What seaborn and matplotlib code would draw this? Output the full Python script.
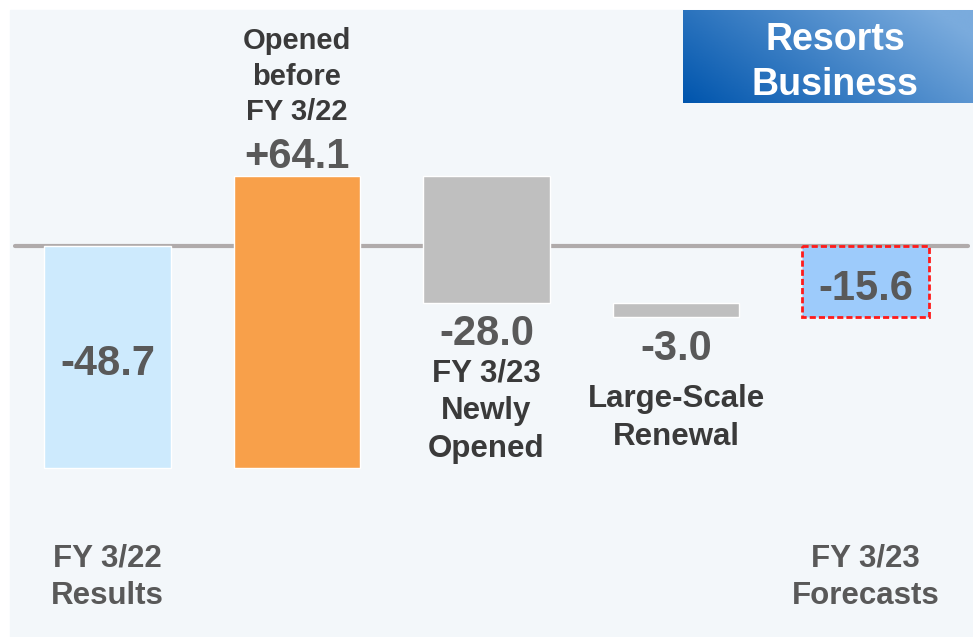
import numpy as np
import pandas as pd
import seaborn as sns
import matplotlib.pyplot as plt
from matplotlib.patches import Rectangle

sns.set_style('white')
plt.rcParams['font.family'] = ['Liberation Sans', 'DejaVu Sans']

# Data
steps = ['FY 3/22 Results', 'Opened before FY 3/22', 'FY 3/23 Newly Opened',
         'Large-Scale Renewal', 'FY 3/23 Forecasts']
changes = [-48.7, 64.1, -28.0, -3.0, -15.6]
is_total = [True, False, False, False, True]
value_labels = ['-48.7', '+64.1', '-28.0', '-3.0', '-15.6']
bar_colors = ['#cdeafd', '#f8a04a', '#bfbfbf', '#bfbfbf', '#9dcbfb']

# waterfall bottoms
bottoms = []
level = 0.0
for c, tot in zip(changes, is_total):
    if tot:
        bottoms.append(0.0)
        level = c
    else:
        bottoms.append(level)
        level += c
df = pd.DataFrame({'step': steps, 'change': changes, 'bottom': bottoms})

# pixel layout helpers (figure is 973x637 px)
X0, DX = 107.5, 189.5
Y0, DY = 246.0, 4.55
def py(y):
    return (Y0 - y) / DY

fig = plt.figure(figsize=(9.73, 6.37), dpi=100)
fig.patches.append(Rectangle((10 / 973, 0), 963 / 973, 627 / 637,
                             transform=fig.transFigure, color='#f3f7fa', zorder=-1))
ax = fig.add_axes([0, 0, 1, 1])
ax.set_facecolor('none')

sns.barplot(data=df, x='step', y='change', hue='step', palette=bar_colors,
            width=0.665, saturation=1, legend=False, ax=ax, zorder=3)
for patch, b in zip(ax.patches, df['bottom']):
    patch.set_y(b)
last = ax.patches[-1]
last.set_edgecolor('#ff1a1a')
last.set_linewidth(2)
last.set_linestyle((0, (2.2, 1.1)))

ax.axhline(0, xmin=15 / 973, xmax=968 / 973, color='#b0abab', lw=3, zorder=1)

ax.set_xlim(-X0 / DX, (973 - X0) / DX)
ax.set_ylim(py(637), py(0))
ax.axis('off')

# value labels
value_base = [375, 168, 345, 360, 300]
for i, (lab, yb) in enumerate(zip(value_labels, value_base)):
    ax.text(i, py(yb), lab, ha='center', va='baseline', fontsize=30,
            fontweight='bold', color='#595959', zorder=5)

# category labels (baseline = last line)
cat_text = ['FY 3/22\nResults', 'Opened\nbefore\nFY 3/22', 'FY 3/23\nNewly\nOpened',
            'Large-Scale\nRenewal', 'FY 3/23\nForecasts']
cat_base = [604, 120, 457, 445, 604]
cat_size = [22.5, 21, 22.5, 22.5, 22.5]
cat_color = ['#595959', '#3a3a3a', '#3a3a3a', '#3a3a3a', '#595959']
for i, (lab, yb, fs, col) in enumerate(zip(cat_text, cat_base, cat_size, cat_color)):
    ax.text(i, py(yb), lab, ha='center', va='baseline', fontsize=fs,
            fontweight='bold', color=col, linespacing=1.33, zorder=5)

# title box with gradient
tax = fig.add_axes([683 / 973, (637 - 103) / 637, 290 / 973, 93 / 637])
gx, gy = np.meshgrid(np.linspace(0, 1, 200), np.linspace(0, 1, 60))
grad = np.clip(0.75 * gx + 0.35 * (1 - gy), 0, 1)
cmap = sns.blend_palette(['#0055ad', '#7aabdd'], as_cmap=True)
tax.imshow(grad, cmap=cmap, aspect='auto', extent=(0, 1, 0, 1), origin='upper')
tax.set_xlim(0, 1)
tax.set_ylim(0, 1)
tax.axis('off')
tax.text(0.524, 1 - 85 / 93, 'Resorts\nBusiness', ha='center', va='baseline',
         fontsize=27, fontweight='bold', color='white', linespacing=1.31)

fig.savefig('out.png', dpi=100)
